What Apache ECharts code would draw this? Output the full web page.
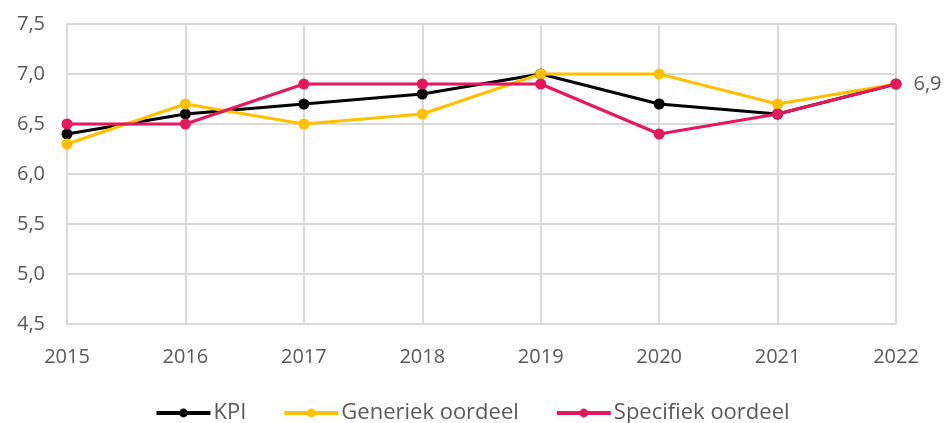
<!DOCTYPE html>
<html>
<head>
<meta charset="utf-8">
<script src="https://cdn.jsdelivr.net/npm/echarts@6/dist/echarts.min.js"></script>
<style>
html,body{margin:0;padding:0;background:#fff;}
#chart{width:944px;height:423px;}
</style>
</head>
<body>
<div id="chart"></div>
<script>
var years = ['2015','2016','2017','2018','2019','2020','2021','2022'];
var kpi = [6.4, 6.6, 6.7, 6.8, 7.0, 6.7, 6.6, 6.9];
var generiek = [6.3, 6.7, 6.5, 6.6, 7.0, 7.0, 6.7, 6.9];
var specifiek = [6.5, 6.5, 6.9, 6.9, 6.9, 6.4, 6.6, 6.9];
var seriesNames = ['KPI', 'Generiek oordeel', 'Specifiek oordeel'];
var colors = ['#000000', '#FFC000', '#E6175C'];

var font = '"Open Sans", sans-serif';
var textColor = '#595959';
var gridColor = '#d9d9d9';

function fmt(v){ return Number(v).toFixed(1).replace('.', ','); }

function mkSeries(name, data, color, lastLabel){
  var s = {
    name: name,
    type: 'line',
    data: data,
    symbol: 'circle',
    symbolSize: 11,
    lineStyle: {color: color, width: 3.2},
    itemStyle: {color: color},
    emphasis: {disabled: true}
  };
  if (lastLabel) {
    s.label = {
      show: true,
      position: 'right',
      distance: 12,
      color: textColor,
      fontFamily: font,
      fontSize: 20,
      formatter: function(p){ return p.dataIndex === data.length - 1 ? fmt(p.value) : ''; }
    };
  }
  return s;
}

var chart = echarts.init(document.getElementById('chart'), null, {renderer: 'canvas'});
chart.setOption({
  animation: false,
  backgroundColor: '#ffffff',
  color: colors,
  grid: {left: 67, right: 48, top: 24, bottom: 99, containLabel: false},
  legend: {
    data: seriesNames,
    top: 397,
    left: 'center',
    itemWidth: 54,
    itemHeight: 11,
    itemGap: 36,
    lineStyle: {width: 4},
    textStyle: {color: textColor, fontFamily: font, fontSize: 22, padding: [0, 0, 0, -2]}
  },
  xAxis: {
    type: 'category',
    data: years,
    boundaryGap: false,
    axisLine: {show: true, lineStyle: {color: gridColor, width: 2}},
    axisTick: {show: false},
    axisLabel: {color: textColor, fontFamily: font, fontSize: 20, margin: 23},
    splitLine: {show: true, lineStyle: {color: gridColor, width: 2}}
  },
  yAxis: {
    type: 'value',
    min: 4.5,
    max: 7.5,
    interval: 0.5,
    axisLine: {show: true, lineStyle: {color: gridColor, width: 2}},
    axisTick: {show: false},
    axisLabel: {color: textColor, fontFamily: font, fontSize: 20, margin: 22, formatter: fmt},
    splitLine: {show: true, lineStyle: {color: gridColor, width: 2}}
  },
  series: [
    mkSeries(seriesNames[0], kpi, colors[0], false),
    mkSeries(seriesNames[1], generiek, colors[1], false),
    mkSeries(seriesNames[2], specifiek, colors[2], true)
  ]
});
</script>
</body>
</html>
